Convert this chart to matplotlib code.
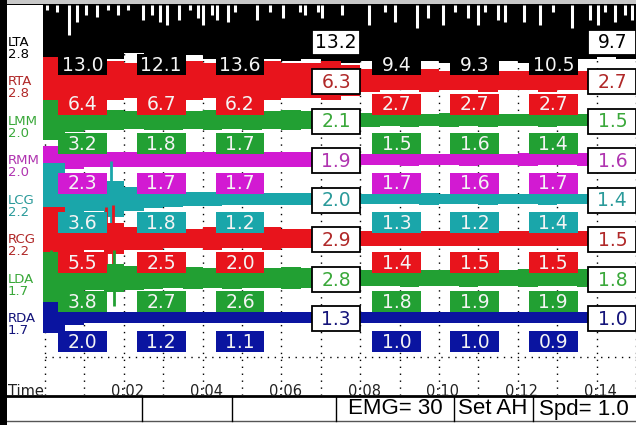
import matplotlib.pyplot as plt
import numpy as np
from matplotlib.patches import Rectangle

plt.rcParams['font.family'] = ['Liberation Sans', 'DejaVu Sans']

# canales EMG
canales = ['LTA', 'RTA', 'LMM', 'RMM', 'LCG', 'RCG', 'LDA', 'RDA']
escalas = ['2.8', '2.8', '2.0', '2.0', '2.2', '2.2', '1.7', '1.7']
colores = ['#000000', '#e8141c', '#22a033', '#d21ad2', '#1aa6aa', '#e8141c', '#22a033', '#0a14a0']
colores_texto = ['#000000', '#b02828', '#3aa83a', '#b034b0', '#2a9a9a', '#b02828', '#3aa83a', '#14147a']

# valores de cada segmento (6 ventanas)
seg_lta = [13.0, 12.1, 13.6, 9.4, 9.3, 10.5]
seg_rta = [6.4, 6.7, 6.2, 2.7, 2.7, 2.7]
seg_lmm = [3.2, 1.8, 1.7, 1.5, 1.6, 1.4]
seg_rmm = [2.3, 1.7, 1.7, 1.7, 1.6, 1.7]
seg_lcg = [3.6, 1.8, 1.2, 1.3, 1.2, 1.4]
seg_rcg = [5.5, 2.5, 2.0, 1.4, 1.5, 1.5]
seg_lda = [3.8, 2.7, 2.6, 1.8, 1.9, 1.9]
seg_rda = [2.0, 1.2, 1.1, 1.0, 1.0, 0.9]
segmentos = [seg_lta, seg_rta, seg_lmm, seg_rmm, seg_lcg, seg_rcg, seg_lda, seg_rda]
seg_centros = [0.95, 2.95, 4.95, 8.92, 10.9, 12.9]

# promedios (cuadros blancos)
prom_1 = [13.2, 6.3, 2.1, 1.9, 2.0, 2.9, 2.8, 1.3]
prom_2 = [9.7, 2.7, 1.5, 1.6, 1.4, 1.5, 1.8, 1.0]

# envolvente de cada traza, cada 0.5 s (en unidades de fila)
amp_lta = [0.45, 0.35, 0.4, 0.45, 0.3, 0.35, 0.4, 0.35, 0.45, 0.4, 0.35, 0.45, 0.5, 0.45, 0.55,
           0.55, 0.5, 0.5, 0.55, 0.5, 0.55, 0.6, 0.55, 0.5, 0.55, 0.5, 0.55, 0.45, 0.4, 0.45]
amp_rta = [0.6, 0.5, 0.45, 0.5, 0.45, 0.4, 0.45, 0.5, 0.45, 0.4, 0.45, 0.5, 0.45, 0.45, 0.5,
           0.4, 0.3, 0.25, 0.25, 0.28, 0.25, 0.25, 0.28, 0.25, 0.25, 0.28, 0.25, 0.25, 0.22, 0.25]
amp_lmm = [0.5, 0.3, 0.25, 0.25, 0.22, 0.25, 0.25, 0.22, 0.25, 0.22, 0.25, 0.22, 0.25, 0.22, 0.2,
           0.18, 0.18, 0.15, 0.18, 0.15, 0.18, 0.15, 0.18, 0.15, 0.15, 0.18, 0.15, 0.15, 0.18, 0.15]
amp_rmm = [0.35, 0.25, 0.2, 0.2, 0.18, 0.2, 0.18, 0.18, 0.2, 0.18, 0.18, 0.2, 0.18, 0.18, 0.18,
           0.15, 0.15, 0.15, 0.16, 0.15, 0.15, 0.16, 0.15, 0.15, 0.16, 0.15, 0.15, 0.16, 0.15, 0.15]
amp_lcg = [0.9, 0.35, 0.3, 0.45, 0.3, 0.22, 0.2, 0.18, 0.18, 0.16, 0.16, 0.15, 0.15, 0.15, 0.14,
           0.13, 0.13, 0.13, 0.13, 0.14, 0.13, 0.13, 0.14, 0.13, 0.13, 0.14, 0.13, 0.13, 0.13, 0.13]
amp_rcg = [0.8, 0.35, 0.3, 0.4, 0.3, 0.28, 0.25, 0.25, 0.28, 0.25, 0.25, 0.28, 0.25, 0.25, 0.22,
           0.2, 0.2, 0.18, 0.2, 0.18, 0.2, 0.18, 0.2, 0.2, 0.18, 0.2, 0.18, 0.2, 0.18, 0.2]
amp_lda = [0.65, 0.35, 0.3, 0.35, 0.3, 0.28, 0.25, 0.28, 0.25, 0.28, 0.25, 0.25, 0.28, 0.25, 0.25,
           0.22, 0.2, 0.2, 0.22, 0.2, 0.2, 0.22, 0.2, 0.2, 0.22, 0.2, 0.2, 0.22, 0.2, 0.2]
amp_rda = [0.4, 0.18, 0.15, 0.15, 0.15, 0.14, 0.15, 0.14, 0.15, 0.14, 0.15, 0.14, 0.15, 0.14, 0.14,
           0.13, 0.13, 0.13, 0.14, 0.13, 0.13, 0.14, 0.13, 0.13, 0.14, 0.13, 0.13, 0.14, 0.13, 0.13]
amplitudes = [amp_lta, amp_rta, amp_lmm, amp_rmm, amp_lcg, amp_rcg, amp_lda, amp_rda]

# picos blancos arriba de LTA (tiempo, profundidad)
picos_t = [0.05, 0.30, 0.61, 0.81, 1.04, 1.32, 1.60, 1.85, 2.11, 2.49, 2.72, 2.92, 3.10, 3.40,
           3.68, 3.88, 4.01, 4.24, 4.37, 4.64, 4.82, 5.38, 5.71, 6.04, 6.47, 6.60, 6.93, 7.03,
           7.54, 8.22, 8.63, 8.88, 9.44, 9.72, 10.10, 10.41, 10.74, 10.99, 11.17, 11.50, 11.68,
           12.16, 12.56, 12.89, 13.38, 13.83, 14.04, 14.21, 14.47, 14.72, 14.90]
picos_prof = [0.13, 0.18, 0.76, 0.43, 0.25, 0.30, 0.13, 0.25, 0.13, 0.38, 0.25, 0.43, 0.51, 0.38,
              0.13, 0.33, 0.51, 0.25, 0.38, 0.43, 0.18, 0.38, 0.18, 0.33, 0.18, 0.25, 0.18, 0.33,
              0.25, 0.51, 0.18, 0.43, 0.58, 0.33, 0.51, 0.18, 0.33, 0.51, 0.18, 0.38, 0.43,
              0.43, 0.51, 0.18, 0.58, 0.38, 0.51, 0.18, 0.43, 0.25, 0.38]

# picos grandes al inicio
burst_canal = [4, 5, 5, 6, 6]
burst_t = [1.68, 1.55, 1.72, 1.75, 0.15]
burst_amp = [0.95, 0.8, 0.85, 0.7, 0.7]

tiempos = [2, 4, 6, 8, 10, 12, 14]

W, H = 636, 425
fig = plt.figure(figsize=(W / 100, H / 100), dpi=100, facecolor='black')
fig.patches.append(Rectangle((7 / W, 421 / H), 1, 4 / H, transform=fig.transFigure,
                             facecolor='#c8c8c8', edgecolor='none'))

ax = fig.add_axes([7 / W, 30 / H, 629 / W, 390 / H])
ax.set_facecolor('white')
ax.set_xlim(-0.965, 15.0)
ax.set_ylim(8.96, -0.91)
ax.set_xticks([])
ax.set_yticks([])
for s in ax.spines.values():
    s.set_visible(False)
TOP = -0.91

# grilla punteada
for s in range(16):
    ax.plot([s, s], [TOP, 8.96], color='black', lw=1, ls=(0, (1, 4)), zorder=1)
ax.plot([0, 15], [8, 8], color='black', lw=1, ls=(0, (1, 4)), zorder=1)

# trazas
t_env = np.arange(0, 15.5, 0.5)
t_env[0] = -0.05
for i, amp in enumerate(amplitudes):
    a = np.append(amp, amp[-1])
    if i == 0:
        ax.fill_between(t_env, TOP, i + a, step='post', color=colores[i], lw=0, zorder=2)
    else:
        ax.fill_between(t_env, i - a, i + a, step='post', color=colores[i], lw=0, zorder=2 + i * 0.01)

ax.vlines(picos_t, TOP, [TOP + p for p in picos_prof], color='white', lw=2.2, zorder=2.5)
for c, t, a in zip(burst_canal, burst_t, burst_amp):
    ax.vlines(t, c - a, c + a, color=colores[c], lw=2, zorder=2 + c * 0.01)

# cuadros de segmento
for i, vals in enumerate(segmentos):
    for xc, v in zip(seg_centros, vals):
        ax.add_patch(Rectangle((xc - 0.62, i + 0.6 - 0.265), 1.24, 0.53,
                               facecolor=colores[i], edgecolor='none', zorder=5))
        ax.text(xc, i + 0.62, f'{v:.1f}', color='#f4f4f4', fontsize=13.5,
                family='DejaVu Sans', ha='center', va='center', zorder=6)

# cuadros blancos
for xc, vals in [(7.39, prom_1), (14.4, prom_2)]:
    for i, v in enumerate(vals):
        ax.add_patch(Rectangle((xc - 0.61, i + 0.03 - 0.315), 1.22, 0.63,
                               facecolor='white', edgecolor='black', lw=1.3, zorder=5))
        ax.text(xc, i + 0.05, f'{v:.1f}', color=colores_texto[i], fontsize=13.5,
                family='DejaVu Sans', ha='center', va='center', zorder=6)

# etiquetas izquierda
ax.add_patch(Rectangle((-0.965, TOP), 0.915, 9.87, facecolor='white', edgecolor='none', zorder=4))
for i, (nombre, esc) in enumerate(zip(canales, escalas)):
    ax.text(-0.94, i + 0.03, nombre, color=colores_texto[i], fontsize=9.5,
            family='DejaVu Sans', va='center', zorder=6)
    ax.text(-0.94, i + 0.34, esc, color=colores_texto[i], fontsize=9.5,
            family='DejaVu Sans', va='center', zorder=6)

ax.text(-0.94, 8.86, 'Time', fontsize=10.5, color='#222222', family='DejaVu Sans',
        va='center', zorder=6)
for t in tiempos:
    ax.text(t + 0.1, 8.86, f'0:{t:02d}', fontsize=10.5, color='#222222', family='DejaVu Sans',
            ha='center', va='center', zorder=6)

# barra de estado
bx = fig.add_axes([7 / W, 0, 629 / W, 30 / H])
bx.set_facecolor('white')
bx.set_xlim(7, 636)
bx.set_ylim(30, 0)
bx.set_xticks([])
bx.set_yticks([])
for s in bx.spines.values():
    s.set_visible(False)
bx.plot([7, 636], [1, 1], color='black', lw=2)
bx.plot([7, 636], [25.5, 25.5], color='#555555', lw=1)
for xv in [142, 232, 336, 454, 533]:
    bx.plot([xv, xv], [1, 25.5], color='black', lw=1)
bx.text(395, 14, 'EMG= 30', fontsize=16, ha='center', va='center')
bx.text(493, 14, 'Set AH', fontsize=16, ha='center', va='center')
bx.text(584, 14, 'Spd= 1.0', fontsize=16, ha='center', va='center')

fig.savefig('out.png', dpi=100, facecolor='black')
